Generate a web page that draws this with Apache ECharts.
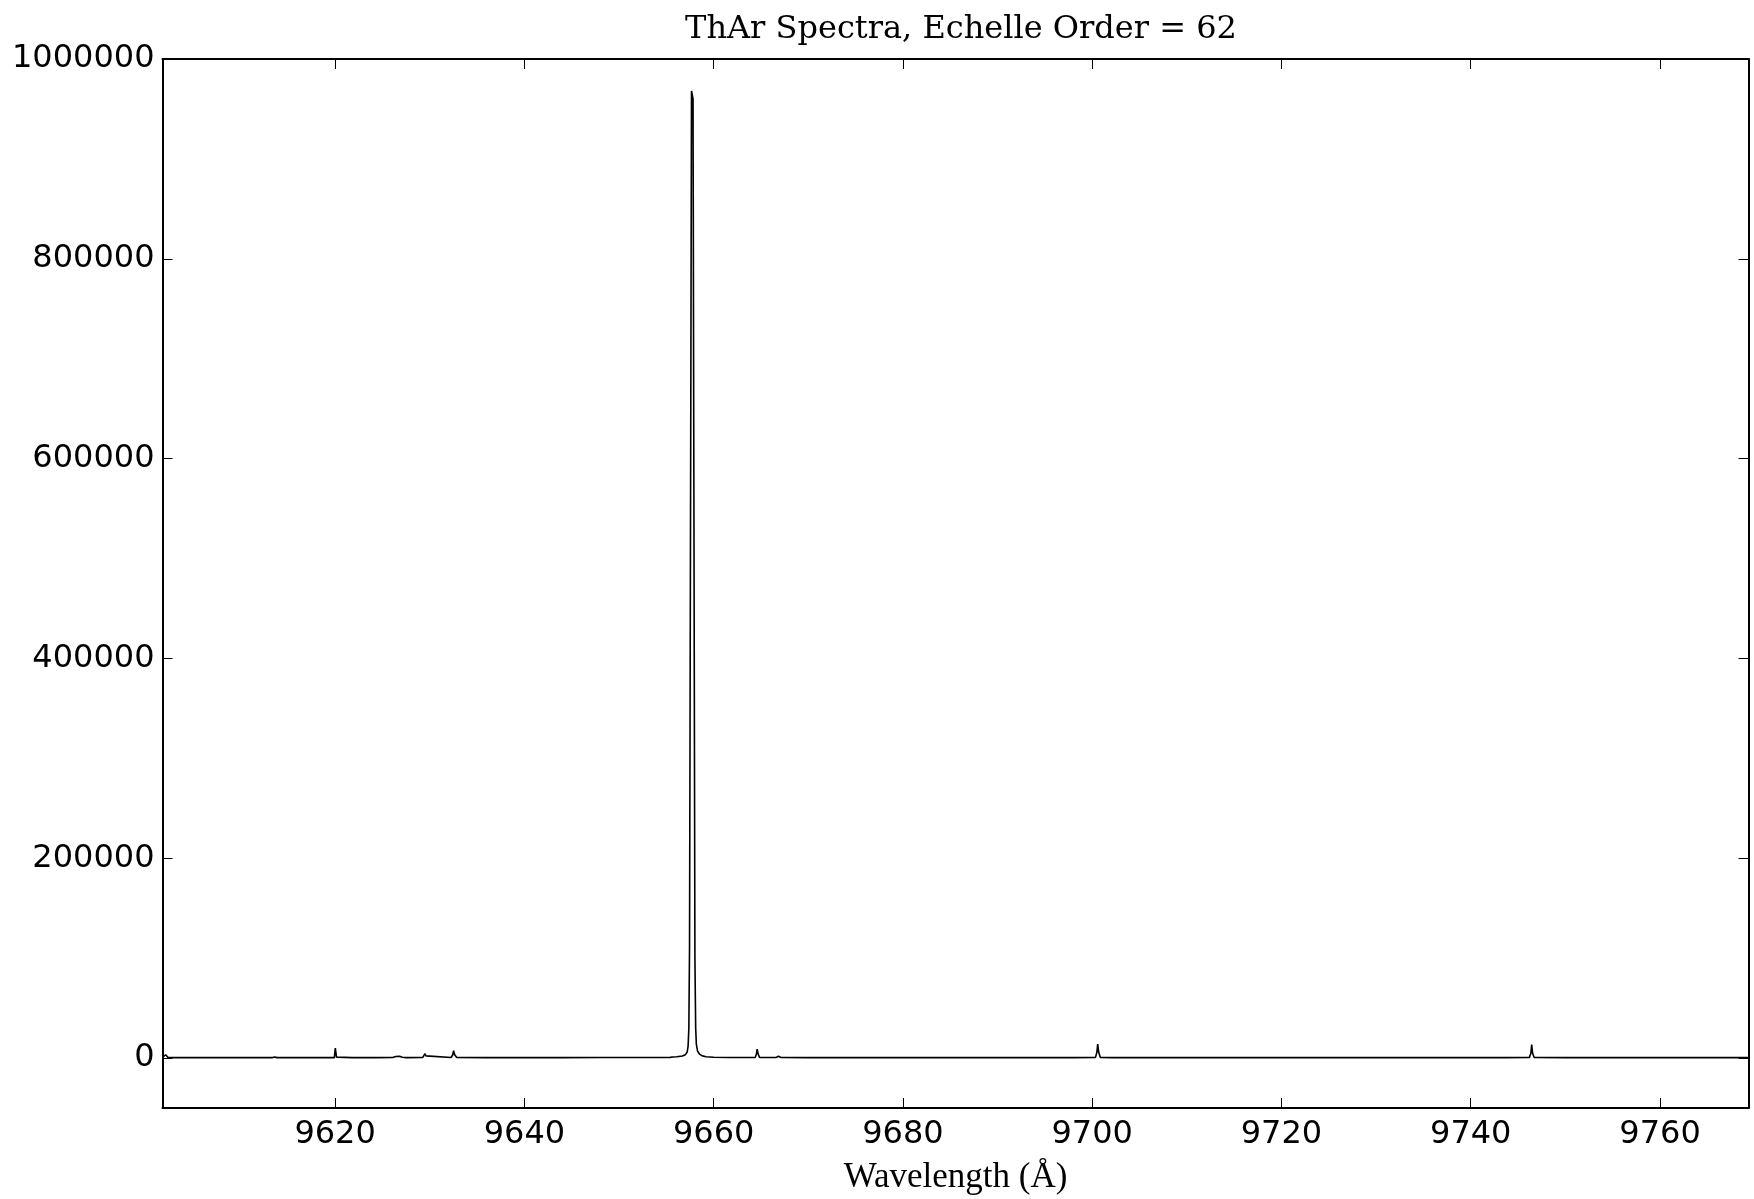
<!DOCTYPE html>
<html>
<head>
<meta charset="utf-8">
<script src="https://cdn.jsdelivr.net/npm/echarts@6/dist/echarts.min.js"></script>
<style>
html,body{margin:0;padding:0;background:#fff;}
#chart{width:1754px;height:1199px;}
</style>
</head>
<body>
<div id="chart"></div>
<script>
// ---- data ----
const titleText = 'ThAr Spectra, Echelle Order = 62';
const xLabelText = 'Wavelength (\u00C5)';

const wavelength = [
  9601.76, 9601.95, 9602.10, 9602.20, 9602.32, 9602.55,
  9606.00, 9610.00, 9612.40, 9612.60, 9612.80, 9613.40, 9613.62, 9613.85,
  9617.00, 9619.92, 9620.02, 9620.15, 9620.30,
  9621.80, 9622.00, 9622.20, 9624.50,
  9626.10, 9626.40, 9626.60, 9626.80, 9627.10, 9627.50,
  9629.25, 9629.40, 9629.50, 9629.60, 9629.80,
  9632.25, 9632.42, 9632.52, 9632.62, 9632.85,
  9636.00, 9640.00, 9644.00, 9648.00, 9652.00,
  9655.40, 9655.70, 9655.90, 9656.10, 9656.30, 9656.70, 9657.00, 9657.08,
  9657.20, 9657.30, 9657.38, 9657.45, 9657.66, 9657.82, 9658.02, 9658.10,
  9658.17, 9658.30, 9658.50, 9658.80, 9659.20, 9660.00, 9661.50,
  9664.40, 9664.52, 9664.60, 9664.70, 9664.85,
  9666.60, 9666.85, 9667.10, 9670.00,
  9676.00, 9676.20, 9676.40, 9678.60, 9678.80, 9679.00,
  9685.00, 9692.00, 9698.00,
  9700.35, 9700.50, 9700.58, 9700.68, 9700.85,
  9702.10, 9702.30, 9702.50, 9710.00, 9720.00, 9730.00,
  9734.30, 9734.50, 9734.70, 9739.60, 9739.80, 9740.00,
  9743.30, 9743.50, 9743.70,
  9746.20, 9746.36, 9746.44, 9746.53, 9746.70,
  9750.00, 9750.20, 9750.40, 9756.00, 9756.20, 9756.40,
  9758.50, 9758.70, 9758.90, 9764.00, 9769.35
];

const flux = [
  600, 1500, 3300, 1600, 700, 400,
  380, 400, 420, 900, 430, 450, 1100, 420,
  400, 450, 10000, 900, 420,
  400, 1000, 420, 450,
  500, 1500, 2700, 1800, 800, 450,
  500, 2000, 4300, 2200, 550,
  600, 3000, 7300, 3500, 650,
  420, 400, 450, 500, 600,
  700, 1100, 1600, 1300, 1200, 2000, 3200, 4000,
  6000, 12000, 30000, 110000, 968000, 960000, 100000, 30000,
  14000, 7000, 4000, 2200, 1300, 800, 600,
  700, 4000, 9000, 4000, 700,
  600, 1800, 600, 450,
  400, 900, 400, 400, 900, 400,
  380, 380, 400,
  700, 6000, 14000, 6000, 700,
  400, 900, 400, 380, 380, 380,
  380, 700, 380, 380, 800, 380,
  380, 900, 380,
  600, 5000, 13500, 5000, 600,
  380, 800, 380, 380, 700, 380,
  380, 700, 380, 380, 380
];

const xMin = 9601.76, xMax = 9769.35;
const yMin = -50000, yMax = 1000000;
const xTicks = [9620, 9640, 9660, 9680, 9700, 9720, 9740, 9760];
const yTicks = [0, 200000, 400000, 600000, 800000, 1000000];

// ---- chart ----
const seriesData = wavelength.map((w, i) => [w, flux[i]]);
const chart = echarts.init(document.getElementById('chart'), null, {renderer: 'canvas'});

const axisLineStyle = {show: true, onZero: false, lineStyle: {color: '#000', width: 2}};
const tickStyle = {show: true, inside: true, length: 10, lineStyle: {color: '#000', width: 1}};

function xAx(pos, labels) {
  return {
    type: 'value', position: pos, min: xMin, max: xMax, scale: true,
    axisLine: axisLineStyle,
    axisTick: Object.assign({}, tickStyle, {customValues: xTicks}),
    axisLabel: {show: labels, customValues: xTicks, margin: 11,
      fontFamily: 'DejaVu Sans', fontSize: 32, color: '#000',
      formatter: v => String(v)},
    splitLine: {show: false},
    name: labels ? xLabelText : '',
    nameLocation: 'middle', nameGap: 52,
    nameTextStyle: {fontFamily: 'Liberation Serif', fontSize: 35, color: '#000'}
  };
}
function yAx(pos, labels) {
  return {
    type: 'value', position: pos, min: yMin, max: yMax, scale: true,
    axisLine: axisLineStyle,
    axisTick: Object.assign({}, tickStyle, {customValues: yTicks}),
    axisLabel: {show: labels, customValues: yTicks, margin: 8,
      fontFamily: 'DejaVu Sans', fontSize: 32, color: '#000',
      formatter: v => String(v)},
    splitLine: {show: false}
  };
}

chart.setOption({
  animation: false,
  backgroundColor: '#fff',
  title: {
    text: titleText, left: 956, top: 9, textAlign: 'center',
    textStyle: {fontFamily: 'DejaVu Serif', fontWeight: 'normal', fontSize: 32, color: '#000'}
  },
  grid: {left: 162.5, right: 5.5, top: 59, bottom: 91, containLabel: false, outerBoundsMode: 'none'},
  xAxis: [xAx('bottom', true), xAx('top', false)],
  yAxis: [yAx('left', true), yAx('right', false)],
  series: [{
    type: 'line', xAxisIndex: 0, yAxisIndex: 0,
    data: seriesData, showSymbol: false, symbol: 'none',
    lineStyle: {color: '#000', width: 1.6}, clip: true
  }]
});
</script>
</body>
</html>
